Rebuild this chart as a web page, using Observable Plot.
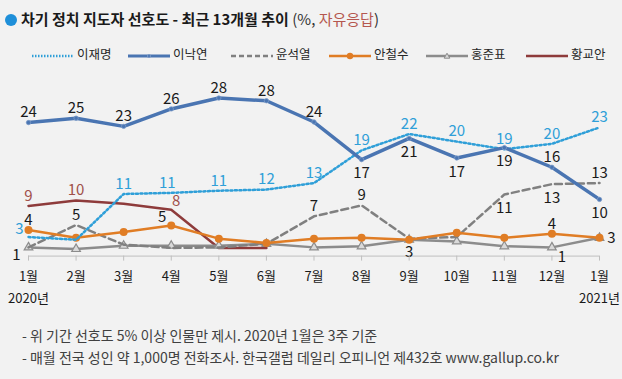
<!DOCTYPE html>
<html><head><meta charset="utf-8">
<script src="https://cdn.jsdelivr.net/npm/d3@7"></script>
<script src="https://cdn.jsdelivr.net/npm/@observablehq/plot@0.6"></script>
<style>
html,body{margin:0;padding:0;}
body{background:#f2f2f2;width:622px;height:379px;overflow:hidden;position:relative;font-family:"Noto Sans CJK KR","Noto Sans",sans-serif;color:#1a1a1a;}
#title{position:absolute;left:5px;top:8px;height:22px;line-height:22px;font-size:15px;white-space:nowrap;}
#title .dot{display:inline-block;width:12px;height:12px;border-radius:50%;background:#1e8fd9;vertical-align:-1px;margin-right:4px;}
#title b{font-weight:700;}
#title .sub{color:#333;}
#title .red{color:#b5574f;}
#legend{position:absolute;left:0;top:44px;height:20px;width:622px;font-size:12.5px;color:#262626;}
.li{position:absolute;top:0;height:20px;line-height:20px;white-space:nowrap;}
.li svg{vertical-align:middle;margin-right:3px;}
#chart{position:absolute;left:0;top:70px;}
#footer{position:absolute;left:22px;top:324px;font-size:14px;line-height:22px;color:#404040;white-space:nowrap;}
</style></head><body>
<div id="title"><span class="dot"></span><b>차기 정치 지도자 선호도 - 최근 13개월 추이</b> <span class="sub">(%, <span class="red">자유응답</span>)</span></div>
<div id="legend"></div>
<div id="chart"></div>
<div id="footer"><div>- 위 기간 선호도 5% 이상 인물만 제시. 2020년 1월은 3주 기준</div><div>- 매월 전국 성인 약 1,000명 전화조사. 한국갤럽 데일리 오피니언 제432호 www.gallup.co.kr</div></div>
<script>
// ---- data ----
const months = ["1월","2월","3월","4월","5월","6월","7월","8월","9월","10월","11월","12월","1월"];
const years = ["2020년","2021년"];
const names = ["이재명","이낙연","윤석열","안철수","홍준표","황교안"];
const leeJM = [2.9,2.4,10.8,11.0,11.4,11.6,12.8,18.8,21.8,20.4,19.0,20.0,23.0];
const leeNY = [23.9,24.7,23.2,26.4,28.4,27.9,24.0,17.1,21.0,17.4,19.3,15.7,9.8];
const yoon  = [1.0,5.1,1.5,0.9,1.0,1.65,6.7,8.7,2.6,2.9,10.7,12.6,12.8];
const ahn   = [4.2,2.75,3.8,5.0,2.6,1.8,2.6,2.75,2.4,3.7,2.75,3.5,2.75];
const hong  = [1.0,0.7,1.3,1.3,1.3,1.65,1.0,1.2,2.4,2.1,1.2,1.0,2.75];
const hwang = [8.6,9.6,9.0,7.9,0.9,0.9];
// label placement (t=top, b=bottom, l/r, combos; "" = no label)
const placeJM   = ["tl","","t","tl2","t","t","t","t","t","t","t","t","t"];
const placeNY   = ["t","t","t","t","t","t","t","b","b","b","b","t","b"];
const placeYoon = ["","t","","","","","t","t","b","","b","b","t"];
const placeAhn  = ["t","","","tl","","","","","","","","t","r"];
const placeHong = ["bl","","","","","","","","","","","br",""];
const placeHwang= ["t","t","","tr","",""];

// ---- styles ----
const styles = {
  "이재명":{stroke:"#2f9fd8", width:2.5, dash:"2,2.5", marker:null, label:"#2f9fd8"},
  "이낙연":{stroke:"#4a75b2", width:3.5, dash:null, marker:"small", label:"#1a1a1a"},
  "윤석열":{stroke:"#808080", width:2.5, dash:"7,4", marker:null, label:"#1a1a1a"},
  "안철수":{stroke:"#e07d25", width:2.5, dash:null, marker:"circle", label:"#1a1a1a"},
  "홍준표":{stroke:"#8c8c8c", width:2.5, dash:null, marker:"triangle", label:"#1a1a1a"},
  "황교안":{stroke:"#8e3b3b", width:2.5, dash:null, marker:null, label:"#a0504a"}
};
const seriesVals = [leeJM, leeNY, yoon, ahn, hong, hwang];
const seriesPlace = [placeJM, placeNY, placeYoon, placeAhn, placeHong, placeHwang];
const rows = [];
names.forEach((n, k) => seriesVals[k].forEach((v, i) => rows.push({name:n, i, v, place:seriesPlace[k][i]})));

const offsets = {t:[0,-10], tl2:[-4,-10], b:[0,14], l:[-11,0], r:[12,0], tl:[-9,-8], bl:[-12,8], br:[10,10], tr:[5,-9]};
const yMin = -0.6;
const drawOrder = ["황교안","홍준표","윤석열","안철수","이재명","이낙연"];

const marks = [];
marks.push(Plot.ruleY([yMin], {stroke:"#bfbfbf", strokeWidth:1}));
for (const n of drawOrder) {
  const s = styles[n];
  const d = rows.filter(r => r.name === n);
  marks.push(Plot.line(d, {x:"i", y:"v", stroke:s.stroke, strokeWidth:s.width, strokeDasharray:s.dash || undefined, strokeLinejoin:"round"}));
  if (s.marker === "circle") marks.push(Plot.dot(d, {x:"i", y:"v", r:4, fill:s.stroke}));
  if (s.marker === "small") marks.push(Plot.dot(d, {x:"i", y:"v", r:2.2, fill:s.stroke, stroke:"#7f9dc9", strokeWidth:0.8}));
  if (s.marker === "triangle") marks.push(Plot.dot(d, {x:"i", y:"v", symbol:"triangle", r:3.2, fill:"#d9d9d9", stroke:s.stroke, strokeWidth:1.2}));
}
for (const n of names) {
  const s = styles[n];
  for (const [code, [dx, dy]] of Object.entries(offsets)) {
    const d = rows.filter(r => r.name === n && r.place === code);
    if (d.length) marks.push(Plot.text(d, {x:"i", y:"v", text: r => String(Math.round(r.v)), dx, dy, fill:s.label, fontSize:15}));
  }
}
const yearRows = years.map((t, j) => ({t, i: j === 0 ? 0 : months.length - 1}));
marks.push(Plot.text(yearRows, {x:"i", y: () => yMin, text:"t", dy:43, fontSize:13, fill:"#1a1a1a", lineAnchor:"middle"}));
marks.push(Plot.axisX({ticks: d3.range(13), tickFormat: i => months[i], tickSize:5, tickPadding:11, stroke:"#bfbfbf", fill:"#1a1a1a", fontSize:13, label:null}));

const chart = Plot.plot({
  width: 622, height: 242,
  marginLeft: 28, marginRight: 23, marginTop: 18.8, marginBottom: 56.4,
  x: {type:"linear", domain:[0,12], axis:null, label:null},
  y: {domain:[yMin, 30], axis:null, label:null},
  style: {background:"transparent", fontFamily:"'Noto Sans CJK KR','Noto Sans',sans-serif", overflow:"visible"},
  marks
});
document.getElementById("chart").appendChild(chart);

// ---- legend ----
const lg = document.getElementById("legend");
const legendLeft = [32, 128, 231, 329, 426, 526];
names.forEach((n, k) => {
  const s = styles[n];
  const el = document.createElement("div");
  el.className = "li";
  el.style.left = legendLeft[k] + "px";
  let mk = "";
  if (s.marker === "circle") mk = `<circle cx="21" cy="6" r="3.2" fill="${s.stroke}"/>`;
  if (s.marker === "small") mk = `<circle cx="21" cy="6" r="1.6" fill="${s.stroke}" stroke="#7f9dc9" stroke-width="0.8"/>`;
  if (s.marker === "triangle") mk = `<path d="M21,3.2 L23.8,8.2 L18.2,8.2 Z" fill="#d9d9d9" stroke="${s.stroke}" stroke-width="1"/>`;
  el.innerHTML = `<svg width="42" height="12"><line x1="0" x2="42" y1="6" y2="6" stroke="${s.stroke}" stroke-width="${Math.min(s.width,3)}" ${s.dash ? `stroke-dasharray="${n==="이재명" ? "1.5,1.5" : "5,3"}"` : ""}/>${mk}</svg>${n}`;
  lg.appendChild(el);
});
</script>
</body></html>
